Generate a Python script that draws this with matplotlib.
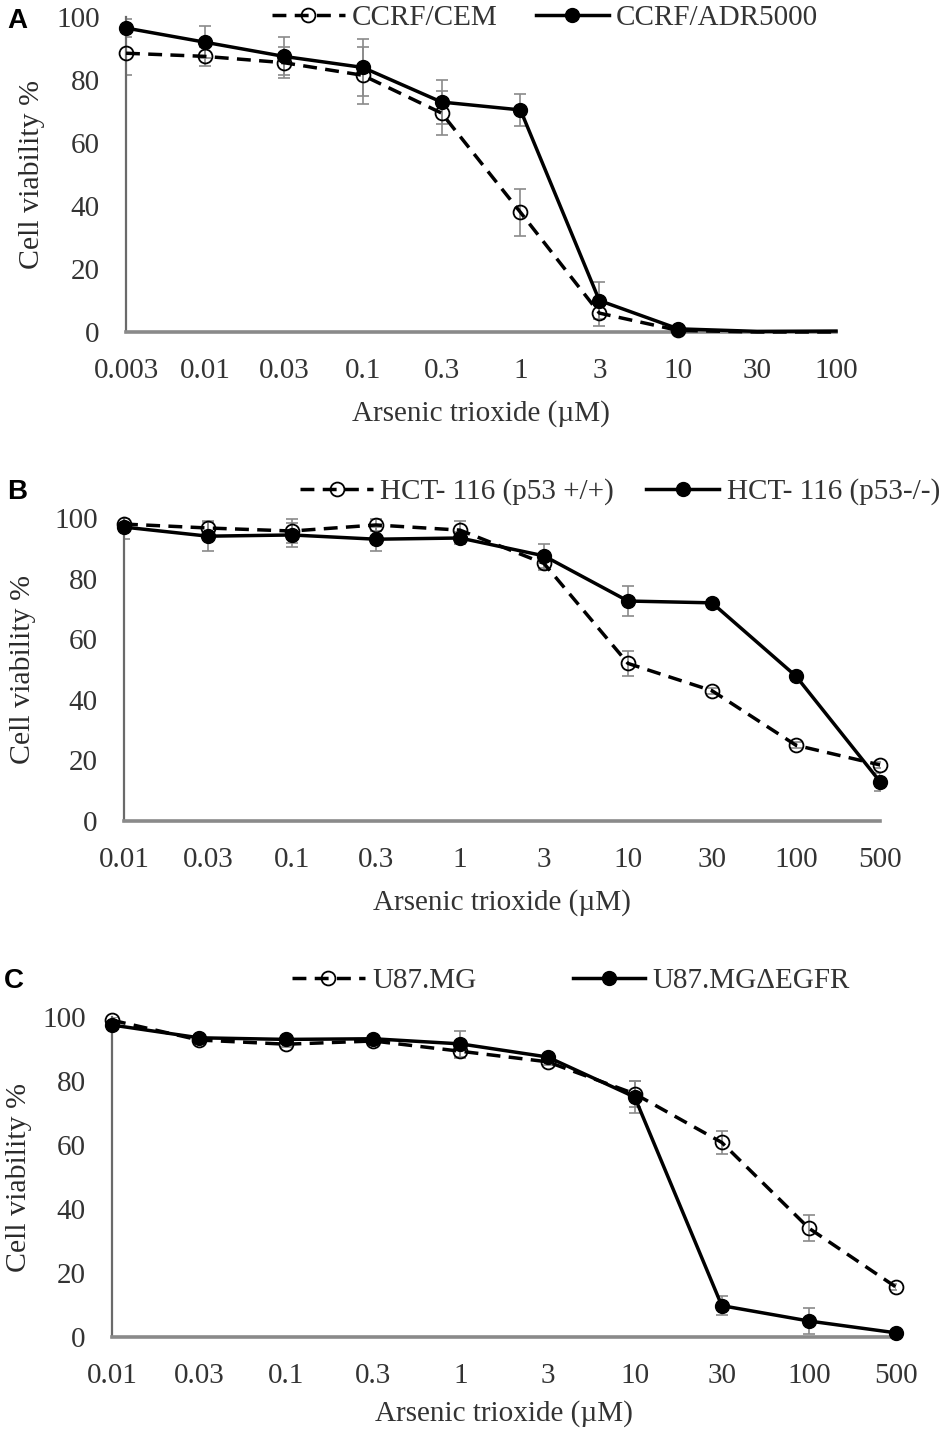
import matplotlib
matplotlib.use("Agg")
import matplotlib.pyplot as plt
from matplotlib.transforms import blended_transform_factory

plt.rcParams['font.family'] = ['Liberation Serif', 'DejaVu Serif']

# ---------------- data ----------------
conc_A = ['0.003', '0.01', '0.03', '0.1', '0.3', '1', '3', '10', '30', '100']
cem = [88.5, 87.5, 85.5, 81.5, 69.5, 38, 6, 0.5, 0.0, 0.0]
cem_err = [7, 3, 5, 9, 7, 7.5, 4, 1, 0, 0]
adr = [96.5, 92, 87.5, 84, 73, 70.5, 10, 1, 0.2, 0.3]
adr_err = [3, 5, 6, 9, 7, 5, 6, 1, 0, 0]

conc_B = ['0.01', '0.03', '0.1', '0.3', '1', '3', '10', '30', '100', '500']
hct_wt = [98, 96.7, 95.7, 97.7, 96, 85, 52, 43, 25, 18.5]
hct_wt_err = [2, 2, 4, 2, 3, 2, 4, 1, 1, 1]
hct_ko = [97, 94, 94.4, 93, 93.4, 87.5, 72.6, 72, 47.8, 13]
hct_ko_err = [4, 5, 4, 4, 2, 4, 5, 1, 1, 3]

conc_C = ['0.01', '0.03', '0.1', '0.3', '1', '3', '10', '30', '100', '500']
u87 = [99, 92.8, 91.5, 92.5, 89.3, 86, 76, 60.8, 34, 15.6]
u87_err = [1, 1, 1, 1, 2, 1, 4, 3.5, 4, 1]
egfr = [97.5, 93.5, 93.0, 93.2, 91.6, 87.5, 75, 9.8, 5, 1.3]
egfr_err = [1, 1, 1, 1, 4, 1, 5, 3, 4, 0.5]

yticks = [0, 20, 40, 60, 80, 100]
xlabel = 'Arsenic trioxide (\u00b5M)'
ylabel = 'Cell viability %'

panels = [
    dict(letter='A', cats=conc_A, s1=cem, e1=cem_err, s2=adr, e2=adr_err,
         n1='CCRF/CEM', n2='CCRF/ADR5000', markn=8,
         rect=[126/950, 1-332/1429, 710/950, 315/1429],
         leg=(545/950, 1-18/1429), colsp=1.3, lett=(17/950, 1-21/1429),
         ylab_x=32/950, lpad=12),
    dict(letter='B', cats=conc_B, s1=hct_wt, e1=hct_wt_err, s2=hct_ko, e2=hct_ko_err,
         n1='HCT- 116 (p53 +/+)', n2='HCT- 116 (p53-/-)', markn=10,
         rect=[124/950, 1-821/1429, 756/950, 303/1429],
         leg=(620/950, 1-492/1429), colsp=1.1, lett=(17/950, 1-492/1429),
         ylab_x=23/950, lpad=12),
    dict(letter='C', cats=conc_C, s1=u87, e1=u87_err, s2=egfr, e2=egfr_err,
         n1='U87.MG', n2='U87.MG\u0394EGFR', markn=10,
         rect=[112/950, 1-1337/1429, 784/950, 320/1429],
         leg=(571/950, 1-981/1429), colsp=3.3, lett=(14/950, 1-981/1429),
         ylab_x=19/950, lpad=8),
]

fig = plt.figure(figsize=(9.5, 14.29), dpi=100)
txtc = '#333333'
errc = '#8a8a8a'
FS = 21

for p in panels:
    ax = fig.add_axes(p['rect'])
    cats = p['cats']
    n = p['markn']
    # error bars
    ax.errorbar(cats[:n], p['s1'][:n], yerr=p['e1'][:n], fmt='none', ecolor=errc,
                elinewidth=1.2, capsize=4, capthick=1.2, zorder=2)
    ax.errorbar(cats[:n], p['s2'][:n], yerr=p['e2'][:n], fmt='none', ecolor=errc,
                elinewidth=1.2, capsize=4, capthick=1.2, zorder=2)
    l1, = ax.plot(cats, p['s1'], color='black', lw=2.5, ls=(0, (4, 2.4)),
                  marker='o', ms=10, mfc='none', mec='black', mew=1.3,
                  markevery=list(range(n)), zorder=3)
    l2, = ax.plot(cats, p['s2'], color='black', lw=2.5, ls='-',
                  marker='o', ms=10, mfc='black', mec='black',
                  markevery=list(range(n)), zorder=4)
    ax.set_xlim(0, len(cats) - 1)
    ax.set_ylim(0, 100)
    ax.set_yticks(yticks)
    for s in ['top', 'right']:
        ax.spines[s].set_visible(False)
    ax.spines['left'].set_color('#6a6a6a')
    ax.spines['left'].set_linewidth(1.6)
    ax.spines['bottom'].set_color('#8a8a8a')
    ax.spines['bottom'].set_linewidth(2.6)
    ax.tick_params(axis='both', length=0, labelsize=FS, colors=txtc)
    ax.tick_params(axis='x', pad=18.5)
    ax.tick_params(axis='y', pad=19)
    ax.set_xlabel(xlabel, fontsize=FS, color=txtc, labelpad=p['lpad'])
    ax.set_ylabel(ylabel, fontsize=21.5, color='#2a2a2a', va='center')
    ax.yaxis.set_label_coords(p['ylab_x'], 0.5,
                              transform=blended_transform_factory(fig.transFigure, ax.transAxes))
    for ln in (l1, l2):
        ln.set_clip_on(False)
    fig.legend([l1, l2], [p['n1'], p['n2']], loc='center', bbox_to_anchor=p['leg'],
               ncol=2, frameon=False, fontsize=FS, handlelength=2.5,
               handletextpad=0.25, columnspacing=p['colsp'], labelcolor=txtc,
               borderpad=0, borderaxespad=0)
    fig.text(p['lett'][0], p['lett'][1], p['letter'], fontsize=20, fontweight='bold',
             family='Liberation Sans', ha='center', va='center', color='black')

fig.savefig('out.png', dpi=100)
